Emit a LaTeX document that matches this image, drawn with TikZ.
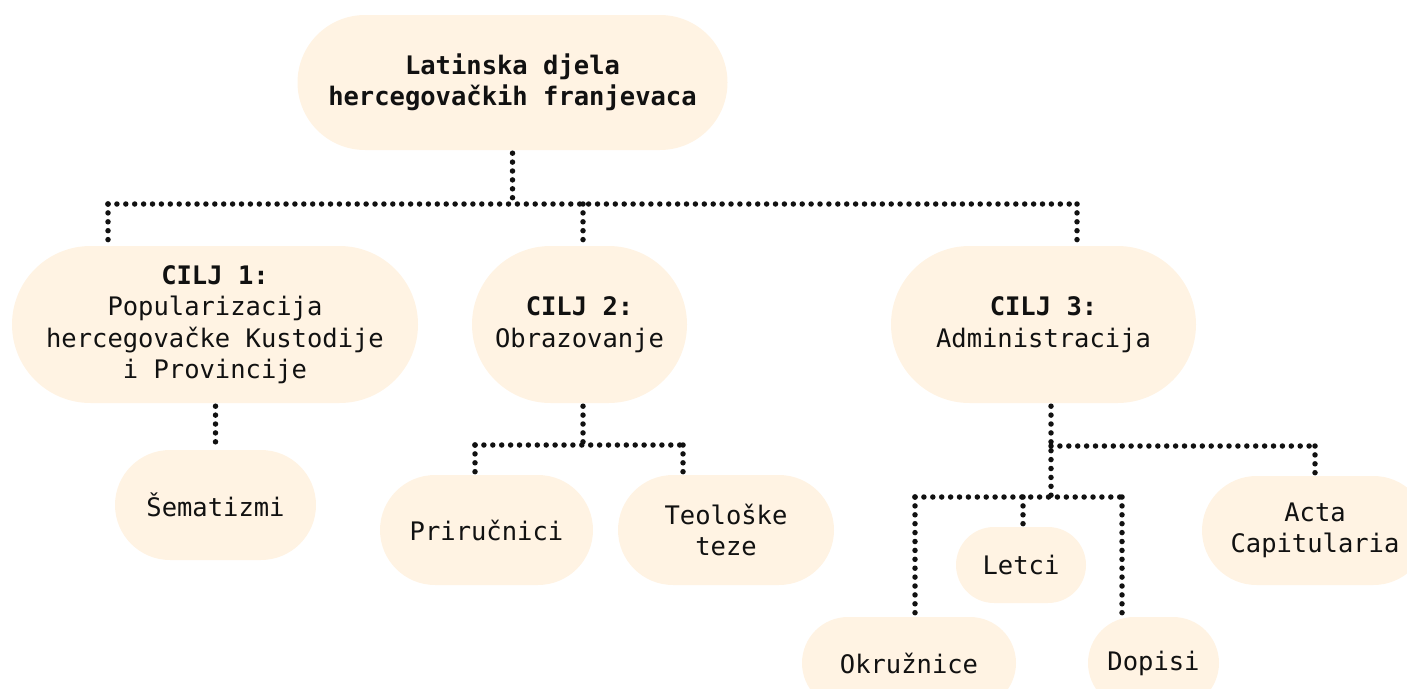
\documentclass[tikz,border=0pt]{standalone}
\usepackage{fontspec}
\setmonofont{DejaVu Sans Mono}
\usetikzlibrary{shapes.misc}
\definecolor{cream}{RGB}{255,243,227}
\definecolor{ink}{RGB}{17,17,17}
\begin{document}
\begin{tikzpicture}[x=1pt,y=-1pt,
  pill/.style={rounded rectangle, fill=cream, inner sep=0pt, align=center, text=ink,
    font=\ttfamily\fontsize{25.5}{31.5}\selectfont},
  dotline/.style={draw=ink, line width=5.5pt, line cap=round, dash pattern=on 0pt off 8.9pt},
  tonode/.style={shorten >=3pt},
  fromnode/.style={shorten <=3pt}]
\useasboundingbox (0,0) rectangle (1407,688);

% nodes
\node[pill, minimum width=430pt, minimum height=135pt] (root) at (512.5,82.5)
  {\bfseries Latinska djela\\\bfseries hercegovačkih franjevaca};
\node[pill, minimum width=406pt, minimum height=157pt] (c1) at (215,324.5)
  {\textbf{CILJ 1:}\\Popularizacija\\hercegovačke Kustodije\\i Provincije};
\node[pill, minimum width=215pt, minimum height=157pt] (c2) at (579.5,324.5)
  {\textbf{CILJ 2:}\\Obrazovanje};
\node[pill, minimum width=305pt, minimum height=157pt] (c3) at (1043.5,324.5)
  {\textbf{CILJ 3:}\\Administracija};
\node[pill, minimum width=201pt, minimum height=110pt] (sem) at (215.5,505) {Šematizmi};
\node[pill, minimum width=213pt, minimum height=110pt] (pri) at (486.5,530) {Priručnici};
\node[pill, minimum width=216pt, minimum height=110pt] (teo) at (726,530) {Teološke\\teze};
\node[pill, minimum width=226pt, minimum height=109pt] (acta) at (1315,530.5) {Acta\\Capitularia};
\node[pill, minimum width=130pt, minimum height=76pt] (letci) at (1021,565) {Letci};
\node[pill, minimum width=214pt, minimum height=92pt] (okr) at (909,663) {Okružnice};
\node[pill, minimum width=131pt, minimum height=92pt] (dop) at (1153.5,663) {Dopisi};

% junction coordinates
\coordinate (j0) at (512.5,204);
\coordinate (jL) at (108,204);
\coordinate (j2) at (583,204);
\coordinate (jR) at (1077,204);
\coordinate (k2) at (583,445);
\coordinate (k2L) at (475,445);
\coordinate (k2R) at (683,445);
\coordinate (k3) at (1051,446);
\coordinate (k3R) at (1315,446);
\coordinate (k3b) at (1051,497);
\coordinate (k3L) at (915,497);
\coordinate (k3M) at (1023,497);
\coordinate (k3E) at (1122,497);

% connectors
\draw[dotline, fromnode] (root.south) -- (j0);
\draw[dotline] (jL) -- (jR);
\draw[dotline, tonode] (jL) -- (jL |- c1.north);
\draw[dotline, tonode] (j2) -- (j2 |- c2.north);
\draw[dotline, tonode] (jR) -- (jR |- c3.north);

\draw[dotline, fromnode, tonode] (sem.north |- c1.south) -- (sem.north);

\draw[dotline, fromnode] (k2 |- c2.south) -- (k2);
\draw[dotline] (k2L) -- (k2R);
\draw[dotline, tonode] (k2L) -- (k2L |- pri.north);
\draw[dotline, tonode] (k2R) -- (k2R |- teo.north);

\draw[dotline, fromnode] (k3b |- c3.south) -- (k3b);
\draw[dotline] (k3) -- (k3R);
\draw[dotline, tonode] (k3R) -- (k3R |- acta.north);
\draw[dotline] (k3L) -- (k3E);
\draw[dotline, tonode] (k3L) -- (k3L |- okr.north);
\draw[dotline, tonode] (k3M) -- (k3M |- letci.north);
\draw[dotline, tonode] (k3E) -- (k3E |- dop.north);
\end{tikzpicture}
\end{document}
